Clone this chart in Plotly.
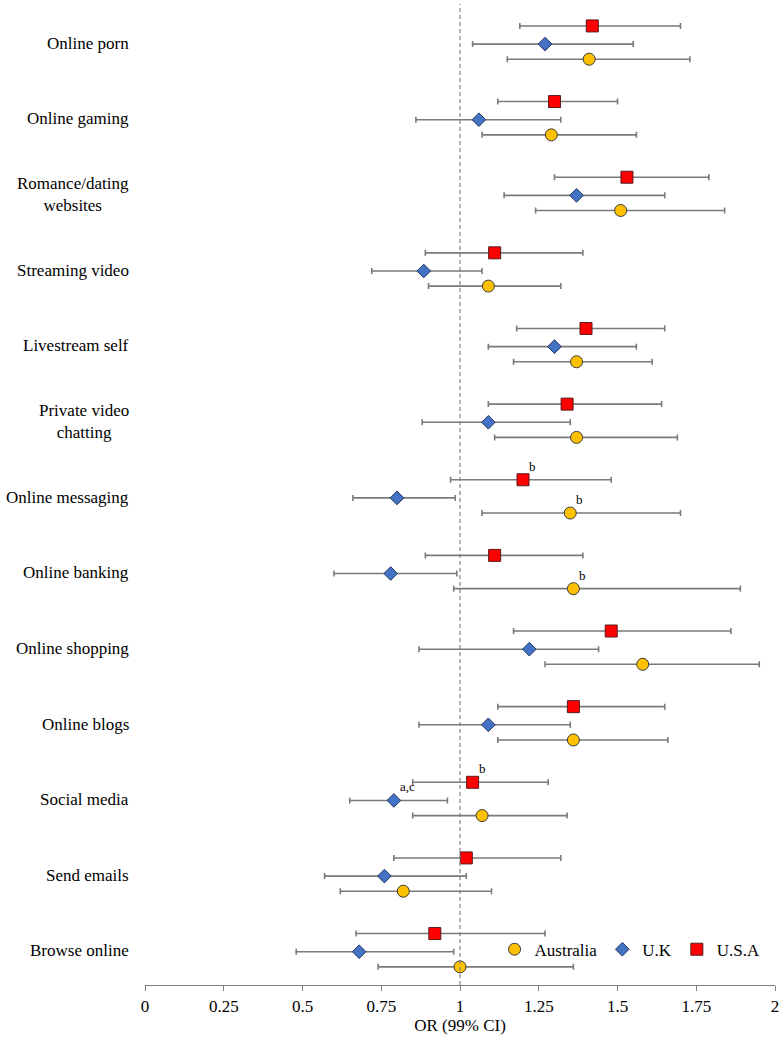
import plotly.graph_objects as go

categories = ["Online porn", "Online gaming", "Romance/dating<br>websites", "Streaming video",
              "Livestream self", "Private video<br>chatting", "Online messaging", "Online banking",
              "Online shopping", "Online blogs", "Social media", "Send emails", "Browse online"]

usa_or = [1.42, 1.30, 1.53, 1.11, 1.40, 1.34, 1.20, 1.11, 1.48, 1.36, 1.04, 1.02, 0.92]
usa_lo = [1.19, 1.12, 1.30, 0.89, 1.18, 1.09, 0.97, 0.89, 1.17, 1.12, 0.85, 0.79, 0.67]
usa_hi = [1.70, 1.50, 1.79, 1.39, 1.65, 1.64, 1.48, 1.39, 1.86, 1.65, 1.28, 1.32, 1.27]

uk_or = [1.27, 1.06, 1.37, 0.885, 1.30, 1.09, 0.80, 0.78, 1.22, 1.09, 0.79, 0.76, 0.68]
uk_lo = [1.04, 0.86, 1.14, 0.72, 1.09, 0.88, 0.66, 0.60, 0.87, 0.87, 0.65, 0.57, 0.48]
uk_hi = [1.55, 1.32, 1.65, 1.07, 1.56, 1.35, 0.985, 0.99, 1.44, 1.35, 0.96, 1.02, 0.98]

aus_or = [1.41, 1.29, 1.51, 1.09, 1.37, 1.37, 1.35, 1.36, 1.58, 1.36, 1.07, 0.82, 1.00]
aus_lo = [1.15, 1.07, 1.24, 0.90, 1.17, 1.11, 1.07, 0.98, 1.27, 1.12, 0.85, 0.62, 0.74]
aus_hi = [1.73, 1.56, 1.84, 1.32, 1.61, 1.69, 1.70, 1.89, 1.95, 1.66, 1.34, 1.10, 1.36]

# superscript notes: (series, category index, text)
notes = [("usa", 6, "b"), ("aus", 6, "b"), ("aus", 7, "b"), ("usa", 10, "b"), ("uk", 10, "a,c")]

x_ticks = [0, 0.25, 0.5, 0.75, 1, 1.25, 1.5, 1.75, 2]
x_tick_text = ["0", "0.25", "0.5", "0.75", "1", "1.25", "1.5", "1.75", "2"]

SERIF = "Liberation Serif, Times New Roman, serif"
idx = list(range(len(categories)))
offsets = {"usa": -0.23, "uk": 0.01, "aus": 0.21}
data = {"usa": (usa_or, usa_lo, usa_hi), "uk": (uk_or, uk_lo, uk_hi), "aus": (aus_or, aus_lo, aus_hi)}

styles = {
    "aus": dict(name="Australia", symbol="circle", color="#FFC000", line="#3a3a3a", size=12),
    "uk": dict(name="U.K", symbol="diamond", color="#4472C4", line="#22385f", size=10.5),
    "usa": dict(name="U.S.A", symbol="square", color="#FF0000", line="#5a1a1a", size=12),
}

fig = go.Figure()
for key in ["aus", "uk", "usa"]:
    orv, lo, hi = data[key]
    st = styles[key]
    fig.add_trace(go.Scatter(
        x=orv, y=[i + offsets[key] for i in idx], mode="markers", name=st["name"],
        marker=dict(symbol=st["symbol"], color=st["color"], size=st["size"],
                    line=dict(color=st["line"], width=1)),
        error_x=dict(type="data", symmetric=False,
                     array=[h - o for h, o in zip(hi, orv)],
                     arrayminus=[o - l for o, l in zip(orv, lo)],
                     color="#7a7a7a", thickness=1.6, width=3),
    ))

# category labels
for i, c in enumerate(categories):
    fig.add_annotation(x=0, xref="paper", y=i, yref="y", text=c, showarrow=False,
                       xanchor="right", yanchor="middle", align="center", xshift=-14,
                       font=dict(family=SERIF, size=17, color="#000000"))

for key, i, t in notes:
    fig.add_annotation(x=data[key][0][i], y=i + offsets[key], text=t, showarrow=False,
                       xanchor="left", yanchor="bottom", xshift=4, yshift=4,
                       font=dict(family=SERIF, size=13, color="#000000"))

fig.add_shape(type="line", x0=1, x1=1, xref="x", y0=0, y1=1, yref="paper",
              line=dict(color="#808080", width=1.2, dash="4px,3px"))

fig.update_layout(
    width=783, height=1042,
    margin=dict(l=145, r=8, t=4, b=57),
    paper_bgcolor="white", plot_bgcolor="white",
    showlegend=True,
    legend=dict(orientation="h", x=0.985, xanchor="right", y=0.036, yanchor="middle",
                font=dict(family=SERIF, size=17, color="#000000"),
                bgcolor="rgba(0,0,0,0)", itemwidth=30, tracegroupgap=0),
    xaxis=dict(range=[0, 2], tickvals=x_ticks, ticktext=x_tick_text,
               showgrid=False, zeroline=False, showline=True, linecolor="#7f7f7f", linewidth=1.3,
               ticks="outside", ticklen=5, tickcolor="#7f7f7f", tickwidth=1.3,
               tickfont=dict(family=SERIF, size=17, color="#000000"),
               title=dict(text="OR (99% CI)", font=dict(family=SERIF, size=17, color="#000000"), standoff=2)),
    yaxis=dict(range=[12.45, -0.52], showticklabels=False, showgrid=False, zeroline=False,
               showline=False, ticks=""),
)

fig.write_html("out.html")
